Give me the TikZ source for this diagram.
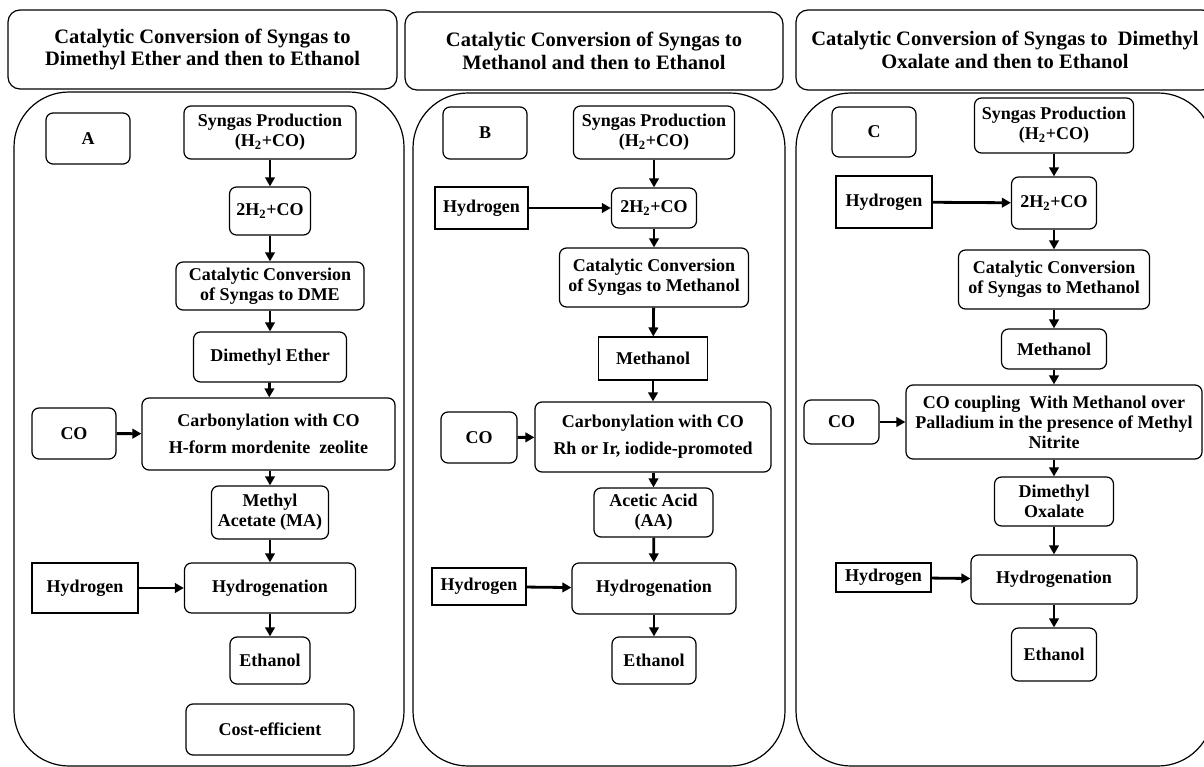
\documentclass[tikz,border=0pt]{standalone}
\usepackage{fontspec}
\setmainfont{Liberation Serif}
\usetikzlibrary{arrows.meta}
\begin{document}
\begin{tikzpicture}[x=1pt,y=-1pt,
  box/.style={draw, rounded corners=7pt, line width=1.2pt, align=center, inner sep=0pt,
    font=\fontsize{18}{20}\selectfont\bfseries},
  sqbox/.style={box, sharp corners, line width=1.1pt},
  sz/.style 2 args={minimum width=#1, minimum height=#2},
  ttl/.style={draw, rounded corners=12pt, line width=1.2pt, align=center, inner sep=0pt,
    font=\fontsize{20.5}{22.5}\selectfont\bfseries},
  panel/.style={draw, rounded corners=55pt, line width=1.2pt},
  arr/.style={line width=2.8pt, -{Triangle[length=9pt,width=9.5pt]}},
]
\useasboundingbox (0,0) rectangle (1204,767);
\clip (0,0) rectangle (1204,767);

% ---------- column A: via dimethyl ether ----------
\node[ttl, sz={389}{79}] (tA) at (202.5,49.5) {Catalytic Conversion of Syngas to\\Dimethyl Ether and then to Ethanol};
\draw[panel] (14,92) rectangle (404,766);
\node[box, sz={84}{51}] (lA) at (88,138.5) {A};
\node[box, sz={172}{53}] (sA) at (270,132.5) {Syngas Production\\(H\textsubscript{2}+CO)};
\node[box, sz={81}{48}] (hA) at (270,211) {2H\textsubscript{2}+CO};
\node[box, sz={188}{48}] (cA) at (270,286) {Catalytic Conversion\\of Syngas to DME};
\node[box, sz={153}{50}] (dA) at (270,357) {Dimethyl Ether};
\node[box, sz={253}{72}] (kA) at (268.5,434) {Carbonylation with CO\\[7pt]H-form mordenite\ \ zeolite};
\node[box, sz={84}{51}] (oA) at (74,433.5) {CO};
\node[box, sz={117}{53}] (mA) at (270,512.5) {Methyl\\Acetate (MA)};
\node[box, sz={171}{50}] (gA) at (270,588) {Hydrogenation};
\node[sqbox, sz={106}{50}] (yA) at (85,588) {Hydrogen};
\node[box, sz={80}{47}] (eA) at (270,660.5) {Ethanol};
\node[box, sz={168}{51}] (fA) at (270,729.5) {Cost-efficient};

\draw[arr] (sA) -- (hA);
\draw[arr] (hA) -- (cA);
\draw[arr] (cA) -- (dA);
\draw[arr] (dA) -- (kA);
\draw[arr] (oA) -- (kA);
\draw[arr] (kA.south -| mA) -- (mA);
\draw[arr] (mA) -- (gA);
\draw[arr] (yA) -- (gA);
\draw[arr] (gA) -- (eA);

% ---------- column B: via methanol and acetic acid ----------
\node[ttl, sz={378}{78}] (tB) at (594,51) {Catalytic Conversion of Syngas to\\Methanol and then to Ethanol};
\draw[panel] (413,93) rectangle (785,766);
\node[box, sz={84}{52}] (lB) at (485,133) {B};
\node[box, sz={161}{53}] (sB) at (654,132.5) {Syngas Production\\(H\textsubscript{2}+CO)};
\node[box, sz={85}{40}] (hB) at (654,208) {2H\textsubscript{2}+CO};
\node[sqbox, sz={93}{42}] (yB1) at (481.5,208) {Hydrogen};
\node[box, sz={189}{59}] (cB) at (654,277.5) {Catalytic Conversion\\of Syngas to Methanol};
\node[sqbox, sz={109}{43}] (mB) at (653,358.5) {Methanol};
\node[box, sz={236}{70}] (kB) at (653,437) {Carbonylation with CO\\[7pt]Rh or Ir, iodide-promoted};
\node[box, sz={76}{51}] (oB) at (479,437.5) {CO};
\node[box, sz={119}{49}] (aB) at (653.5,512.5) {Acetic Acid\\(AA)};
\node[box, sz={164}{51}] (gB) at (654,588.5) {Hydrogenation};
\node[sqbox, sz={94}{37}] (yB2) at (479,586.5) {Hydrogen};
\node[box, sz={84}{47}] (eB) at (654,660.5) {Ethanol};

\draw[arr] (sB) -- (hB);
\draw[arr] (yB1) -- (hB);
\draw[arr] (hB) -- (cB);
\draw[arr] (cB) -- (mB);
\draw[arr] (mB) -- (kB);
\draw[arr] (oB) -- (kB);
\draw[arr] (kB.south -| aB) -- (aB);
\draw[arr] (aB) -- (gB);
\draw[arr] (yB2) -- (gB);
\draw[arr] (gB) -- (eB);

% ---------- column C: via dimethyl oxalate ----------
\node[ttl, sz={418}{80}] (tC) at (1005,50) {Catalytic Conversion of Syngas to\ \ Dimethyl\\Oxalate and then to Ethanol};
\draw[panel] (796,93) rectangle (1213,766);
\node[box, sz={84}{50}] (lC) at (874,132) {C};
\node[box, sz={159}{55}] (sC) at (1054,125.5) {Syngas Production\\(H\textsubscript{2}+CO)};
\node[box, sz={85}{52}] (hC) at (1054,203) {2H\textsubscript{2}+CO};
\node[sqbox, sz={96}{52}] (yC1) at (884,202) {Hydrogen};
\node[box, sz={191}{59}] (cC) at (1054,279.5) {Catalytic Conversion\\of Syngas to Methanol};
\node[box, sz={105}{40}] (mC) at (1054,349) {Methanol};
\node[box, sz={296}{74}] (kC) at (1054,422) {CO coupling\ \ With Methanol over\\Palladium in the presence of Methyl\\Nitrite};
\node[box, sz={75}{44}] (oC) at (841.5,422) {CO};
\node[box, sz={119}{49}] (xC) at (1054,501.5) {Dimethyl\\Oxalate};
\node[box, sz={166}{49}] (gC) at (1054,579.5) {Hydrogenation};
\node[sqbox, sz={95}{29}] (yC2) at (883.5,577.5) {Hydrogen};
\node[box, sz={85}{53}] (eC) at (1054,654.5) {Ethanol};

\draw[arr] (sC) -- (hC);
\draw[arr] (yC1) -- (hC);
\draw[arr] (hC) -- (cC);
\draw[arr] (cC) -- (mC);
\draw[arr] (mC) -- (kC);
\draw[arr] (oC) -- (kC);
\draw[arr] (kC) -- (xC);
\draw[arr] (xC) -- (gC);
\draw[arr] (yC2) -- (gC);
\draw[arr] (gC) -- (eC);
\end{tikzpicture}
\end{document}
